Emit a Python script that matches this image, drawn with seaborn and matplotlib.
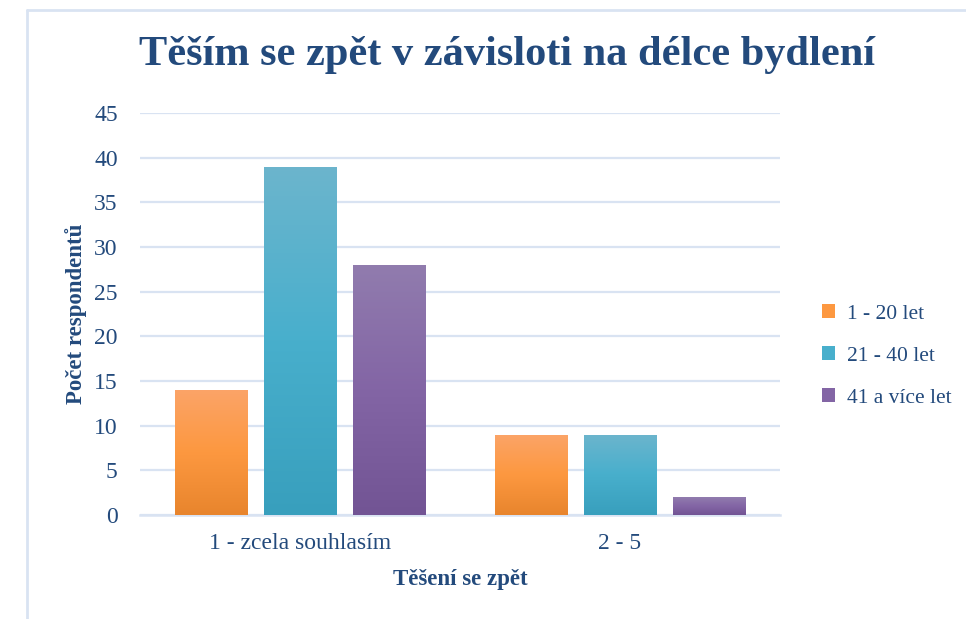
import numpy as np
import pandas as pd
import matplotlib.pyplot as plt
import matplotlib.colors as mcolors
from matplotlib.lines import Line2D
from matplotlib.patches import Patch
import seaborn as sns

categories = ['1 - zcela souhlasím', '2 - 5']
groups = ['1 - 20 let', '21 - 40 let', '41 a více let']
values_1_20 = [14, 9]
values_21_40 = [39, 9]
values_41 = [28, 2]

# top / middle / bottom colours of the gradient fill
grad_colors = {
    '1 - 20 let': ['#fba468', '#fd9840', '#e8852d'],
    '21 - 40 let': ['#6cb5cd', '#48afcc', '#389fbd'],
    '41 a více let': ['#917cae', '#8365a5', '#725494'],
}
text_color = '#234a7c'
grid_color = '#d9e3f2'

df = pd.DataFrame({
    'kategorie': categories * 3,
    'skupina': [g for g in groups for _ in categories],
    'pocet': values_1_20 + values_21_40 + values_41,
})

sns.set_style('white')
plt.rcParams['font.family'] = ['Liberation Serif', 'DejaVu Serif']

fig = plt.figure(figsize=(9.66, 6.19), dpi=100)
ax = fig.add_axes([140 / 966, 1 - 515 / 619, 640 / 966, 402 / 619])

mid = {g: c[1] for g, c in grad_colors.items()}
sns.barplot(data=df, x='kategorie', y='pocet', hue='skupina', order=categories,
            hue_order=groups, palette=mid, width=0.834, gap=0.19,
            legend=False, ax=ax, zorder=3)

# gradient fill clipped to each bar
bars = [p for p in ax.patches if p.get_height() > 0]
for i, bar in enumerate(bars):
    g = groups[i // len(categories)]
    cmap = mcolors.LinearSegmentedColormap.from_list(g, grad_colors[g][::-1])
    x, w, h = bar.get_x(), bar.get_width(), bar.get_height()
    grad = np.linspace(0, 1, 256).reshape(-1, 1)
    im = ax.imshow(grad, cmap=cmap, extent=[x, x + w, 0, h], aspect='auto',
                   origin='lower', zorder=3)
    im.set_clip_path(bar)
    bar.set_facecolor('none')
    bar.set_edgecolor('none')

ax.set_xlim(-0.5, 1.5)
ax.set_ylim(0, 45)
ax.set_yticks(range(0, 46, 5))
ax.yaxis.grid(True, color=grid_color, linewidth=1.6, zorder=0)
ax.set_axisbelow(True)
for s in ['top', 'right', 'left']:
    ax.spines[s].set_visible(False)
ax.spines['bottom'].set_color(grid_color)
ax.spines['bottom'].set_linewidth(1.8)
ax.tick_params(length=0, labelsize=17, labelcolor=text_color)
ax.tick_params(axis='y', pad=16)
ax.tick_params(axis='x', pad=13)

ax.set_xlabel('Těšení se zpět', fontsize=16.5, fontweight='bold', color=text_color, labelpad=11)
ax.set_ylabel('Počet respondentů', fontsize=16.5, fontweight='bold', color=text_color, labelpad=5)

fig.text(0.525, 1 - 55 / 619, 'Těším se zpět v závisloti na délce bydlení',
         ha='center', va='center', fontsize=30.5, fontweight='bold', color=text_color)

handles = [Patch(facecolor=grad_colors[g][1], edgecolor='none') for g in groups]
fig.legend(handles, groups, loc='center left', bbox_to_anchor=(811 / 966, 1 - 356 / 619),
           frameon=False, fontsize=15.5, labelcolor=text_color, handlelength=0.6,
           handleheight=0.6, handletextpad=0.55, labelspacing=1.05, borderpad=0)

# outer chart frame (left and top edges visible)
fig.add_artist(Line2D([27 / 966, 27 / 966], [0, 1 - 10 / 619], color=grid_color, linewidth=2))
fig.add_artist(Line2D([27 / 966, 1], [1 - 10 / 619, 1 - 10 / 619], color=grid_color, linewidth=2))

fig.savefig('out.png', dpi=100)
